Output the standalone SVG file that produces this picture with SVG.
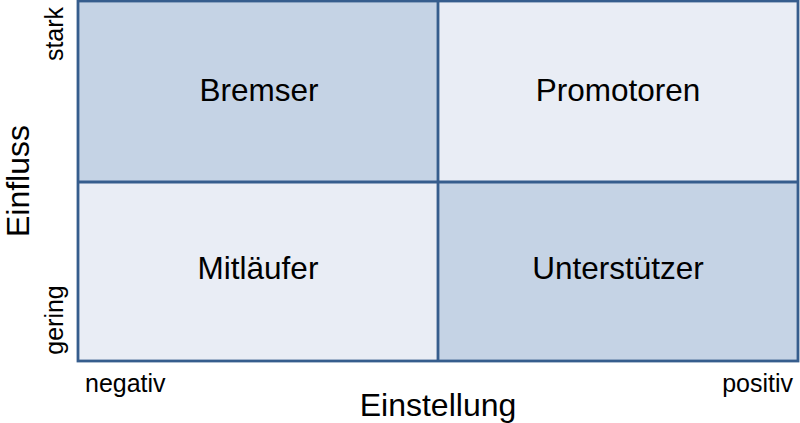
<svg xmlns="http://www.w3.org/2000/svg" width="800" height="423" viewBox="0 0 800 423">
<style>
.dark{fill:#C5D3E5}
.light{fill:#E9EDF5}
.line{stroke:#365D8D;stroke-width:2.8;fill:none}
text{font-family:"Liberation Sans",Arial,sans-serif;fill:#000}
.cell{font-size:31.5px;text-anchor:middle}
.tick{font-size:25px}
.axis{font-size:32px;text-anchor:middle}
</style>
<rect width="800" height="423" fill="#fff"/>
<g id="bremser"><rect class="dark" x="78" y="1" width="360" height="181"/><text class="cell" x="259" y="101">Bremser</text></g>
<g id="promotoren"><rect class="light" x="438" y="1" width="360" height="181"/><text class="cell" x="618" y="101">Promotoren</text></g>
<g id="mitlaeufer"><rect class="light" x="78" y="182" width="360" height="179"/><text class="cell" x="258" y="279">Mitläufer</text></g>
<g id="unterstuetzer"><rect class="dark" x="438" y="182" width="360" height="179"/><text class="cell" x="618" y="279">Unterstützer</text></g>
<g id="grid">
<rect class="line" x="78" y="1" width="720" height="360"/>
<line class="line" x1="438" y1="1" x2="438" y2="361"/>
<line class="line" x1="78" y1="182" x2="798" y2="182"/>
</g>
<g id="labels">
<text class="tick" transform="translate(63,34) rotate(-90)" text-anchor="middle">stark</text>
<text class="tick" transform="translate(63,320) rotate(-90)" text-anchor="middle">gering</text>
<text class="axis" transform="translate(29,181) rotate(-90)">Einfluss</text>
<text class="tick" x="85" y="392">negativ</text>
<text class="tick" x="793" y="392" text-anchor="end">positiv</text>
<text class="axis" x="438" y="416">Einstellung</text>
</g>
</svg>
